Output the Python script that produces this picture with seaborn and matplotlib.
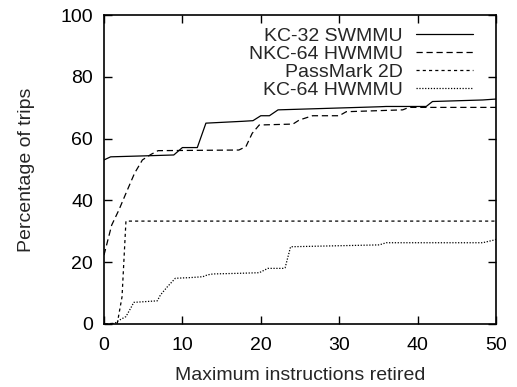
import matplotlib
matplotlib.use("Agg")
import matplotlib.pyplot as plt
import seaborn as sns
import pandas as pd

sns.set_theme(style="ticks")
plt.rcParams['font.family'] = ['Liberation Sans', 'DejaVu Sans']

kc32_x = [0, 0.85, 5, 8.9, 10, 11.9, 13, 17.7, 19, 20, 21.1, 22.2, 35.1, 36, 41.1, 41.9, 48.3, 50]
kc32_y = [53.1, 54.1, 54.4, 54.7, 57.1, 57.1, 65.0, 65.6, 65.8, 67.4, 67.4, 69.3, 70.3, 70.4, 70.4, 72.0, 72.5, 72.8]

nkc64_x = [0, 0.98, 1.9, 2.8, 3.9, 4.9, 6.0, 6.9, 17.2, 18.1, 18.9, 19.8, 24.1, 24.9, 26.6, 30.0, 30.9, 38.1, 38.9, 50]
nkc64_y = [22.3, 32.0, 36.9, 42.3, 48.8, 53.1, 54.9, 56.1, 56.3, 57.4, 61.7, 64.4, 64.7, 66.0, 67.4, 67.4, 68.7, 69.3, 70.1, 70.1]

pm_x = [0, 1.7, 2.3, 2.8, 50]
pm_y = [0, 0.3, 8.8, 33.3, 33.3]

kc64_x = [0, 1.3, 1.7, 2.8, 3.4, 3.8, 6.8, 7.2, 8.1, 9.1, 10.9, 12.6, 13.2, 13.9, 17.2, 19.8, 20.9, 22.8, 23.1, 23.8, 35.1, 36.0, 48.3, 49.8, 50]
kc64_y = [0, 0, 0.9, 2.4, 5.1, 7.0, 7.5, 9.4, 12.1, 14.8, 15.0, 15.3, 15.9, 16.2, 16.4, 16.6, 18.0, 18.0, 18.2, 25.0, 25.6, 26.3, 26.3, 27.2, 27.4]

series = [
    ("KC-32 SWMMU", kc32_x, kc32_y, "-"),
    ("NKC-64 HWMMU", nkc64_x, nkc64_y, (0, (5, 3))),
    ("PassMark 2D", pm_x, pm_y, (0, (2.5, 2.5))),
    ("KC-64 HWMMU", kc64_x, kc64_y, (0, (1, 1.3))),
]

fig = plt.figure(figsize=(5.17, 3.87), dpi=100)
ax = fig.add_axes([104/517, 1-324/387, (496-104)/517, (324-15)/387])

for name, xs, ys, ls in series:
    df = pd.DataFrame({"x": xs, "y": ys})
    sns.lineplot(data=df, x="x", y="y", ax=ax, color="black", linewidth=0.9,
                 linestyle=ls, label=name, estimator=None, sort=False)

ax.set_xlim(0, 50)
ax.set_ylim(0, 100)
ax.set_xticks([0, 10, 20, 30, 40, 50])
ax.set_yticks([0, 20, 40, 60, 80, 100])
ax.tick_params(direction="in", top=True, right=True, length=6, width=1,
               labelsize=14, colors="black")
ax.tick_params(axis="x", pad=9.5)
ax.tick_params(axis="y", pad=8)
for s in ax.spines.values():
    s.set_linewidth(1.2)
    s.set_color("black")
ax.set_xlabel("Maximum instructions retired", fontsize=14, labelpad=9)
ax.set_ylabel("Percentage of trips", fontsize=14, labelpad=18)

leg = ax.legend(loc="upper right", bbox_to_anchor=(0.941, 0.961), frameon=False,
                markerfirst=False, fontsize=14, handlelength=2.9, labelspacing=0.03,
                handletextpad=0.7, borderpad=0, borderaxespad=0)
for t in leg.get_texts():
    t.set_ha("right")
leg._legend_box.align = "right"

fig.savefig("out.png", dpi=100)
